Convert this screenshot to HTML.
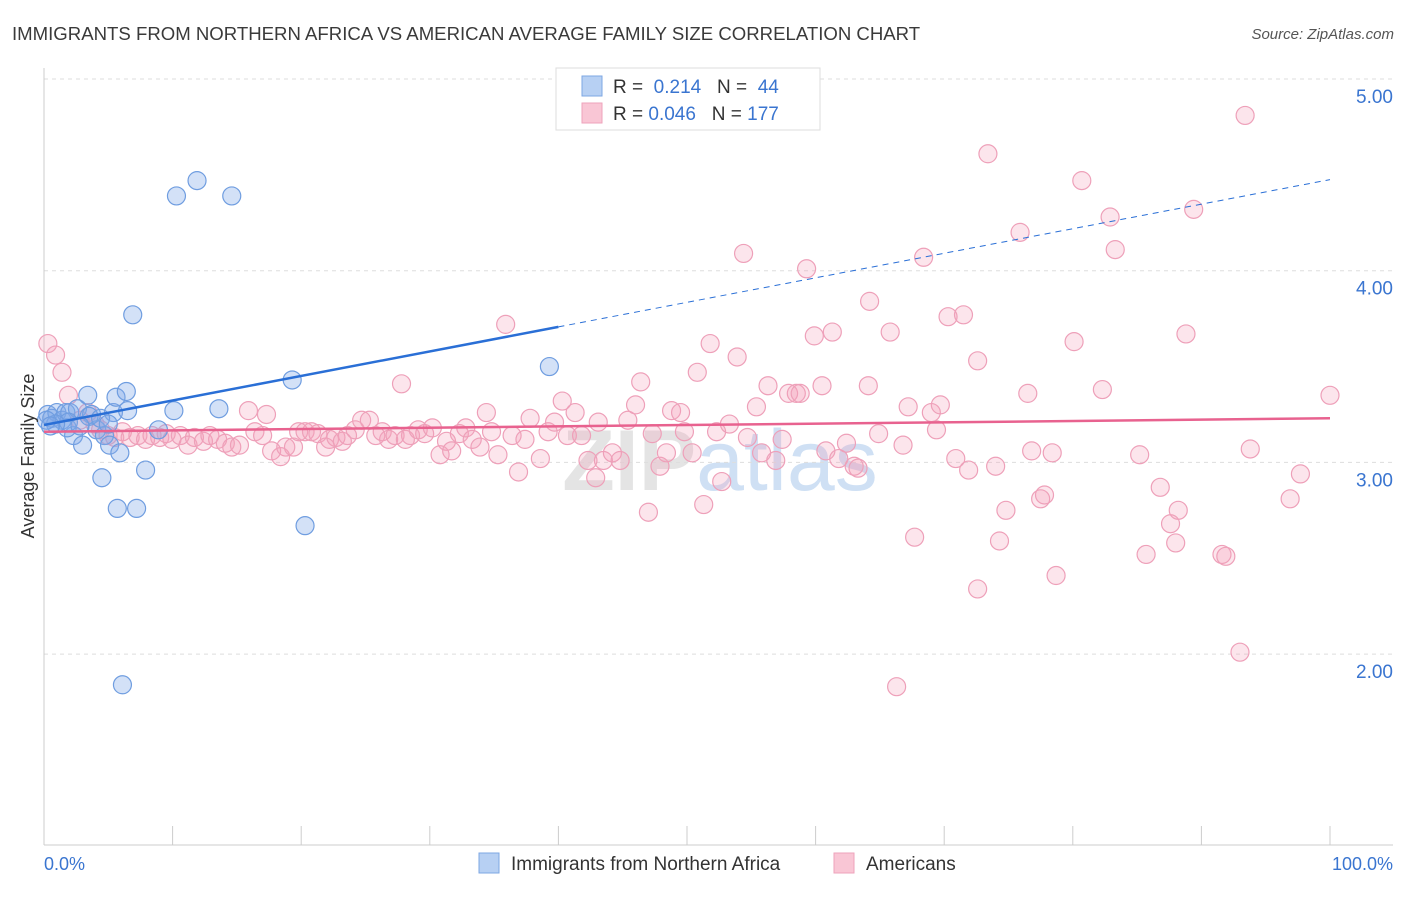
<!DOCTYPE html>
<html><head><meta charset="utf-8"><style>
body{margin:0;background:#fff;font-family:"Liberation Sans",sans-serif;}
svg text{font-family:"Liberation Sans",sans-serif;}
</style></head><body>
<svg id="chart" width="1406" height="892" xmlns="http://www.w3.org/2000/svg">
<text x="12" y="40" font-size="18.6" fill="#3a3a3a">IMMIGRANTS FROM NORTHERN AFRICA VS AMERICAN AVERAGE FAMILY SIZE CORRELATION CHART</text>
<text x="1394" y="39" font-size="15" fill="#555" text-anchor="end" font-style="italic">Source: ZipAtlas.com</text>
<text x="720" y="490" font-size="86" fill="#e4e4e4" text-anchor="middle" font-weight="bold">ZIP<tspan fill="#cfe0f4" font-weight="normal">atlas</tspan></text>
<g id="grid"></g><g id="axes"></g><g id="pts"></g><g id="lines"></g>
<text transform="translate(34,456) rotate(-90)" font-size="18" fill="#333" text-anchor="middle">Average Family Size</text>
<text x="44" y="870" font-size="18" fill="#3a75d0">0.0%</text>
<text x="1393" y="870" font-size="18" fill="#3a75d0" text-anchor="end">100.0%</text>
<g>
<rect x="556" y="68" width="264" height="62" fill="#fff" stroke="#ddd"/>
<rect x="582" y="76" width="20" height="20" fill="#b7d0f3" stroke="#7ea7e3"/>
<rect x="582" y="103" width="20" height="20" fill="#f9c6d5" stroke="#eea3bb"/>
<text x="613" y="93" font-size="19" fill="#333">R = <tspan fill="#3a75d0">&#160;0.214</tspan>&#160;&#160;&#160;N = <tspan fill="#3a75d0">&#160;44</tspan></text>
<text x="613" y="120" font-size="19" fill="#333">R = <tspan fill="#3a75d0">0.046</tspan>&#160;&#160;&#160;N = <tspan fill="#3a75d0">177</tspan></text>
</g>
<g>
<rect x="479" y="853" width="20" height="20" fill="#b7d0f3" stroke="#7ea7e3"/>
<text x="511" y="870" font-size="19" fill="#333">Immigrants from Northern Africa</text>
<rect x="834" y="853" width="20" height="20" fill="#f9c6d5" stroke="#eea3bb"/>
<text x="866" y="870" font-size="19" fill="#333">Americans</text>
</g>
</svg>
<script>
const yTicks=[2,3,4,5];
const yTickLabels=["2.00","3.00","4.00","5.00"];
const blueX=[0.3,0.6,1.0,1.4,1.7,2.0,2.3,2.6,3.0,3.4,3.7,4.1,4.5,4.7,5.1,5.4,5.6,5.7,5.9,6.1,6.4,6.5,7.2,7.9,8.9,10.1,10.3,11.9,13.6,14.6,6.9,19.3,20.3,39.3,1.8,3.5,4.4,1.9,2.8,0.9,5.0,0.2,0.5];
const blueY=[3.25,3.23,3.26,3.22,3.26,3.26,3.14,3.28,3.09,3.35,3.25,3.17,2.92,3.14,3.09,3.26,3.34,2.76,3.05,1.84,3.37,3.27,2.76,2.96,3.17,3.27,4.39,4.47,3.28,4.39,3.77,3.43,2.67,3.50,3.18,3.24,3.23,3.21,3.19,3.20,3.20,3.22,3.19];
const pinkX=[0.3,0.9,1.4,1.9,2.8,3.4,3.97,4.4,4.98,5.5,6.1,6.7,7.3,7.9,8.4,9.0,9.5,9.95,10.6,11.2,11.7,12.4,12.9,13.5,14.1,14.6,15.2,15.9,16.4,17.0,17.3,17.7,18.4,18.8,19.4,19.8,20.3,20.8,21.3,21.9,22.2,22.7,23.2,23.6,24.2,24.7,25.3,25.8,26.3,26.8,27.3,27.8,28.1,28.5,29.1,29.6,30.2,30.8,31.3,31.7,32.3,32.8,33.3,33.9,34.4,34.8,35.3,35.9,36.4,36.9,37.4,37.8,38.6,39.2,39.7,40.3,40.7,41.3,41.8,42.3,42.9,43.1,43.5,44.2,44.8,45.4,46.0,46.4,47.0,47.3,47.9,48.4,48.8,49.5,49.8,50.4,50.8,51.3,51.8,52.3,52.7,53.3,53.9,54.4,54.7,55.4,55.8,56.3,56.9,57.4,57.9,58.5,58.8,59.3,59.9,60.5,60.8,61.3,61.8,62.4,63.0,63.3,64.1,64.2,64.9,65.8,66.3,66.8,67.2,67.7,68.4,69.0,69.4,69.7,70.3,70.9,71.5,71.9,72.6,72.6,73.4,74.0,74.3,74.8,75.9,76.5,76.8,77.5,77.8,78.4,78.7,80.1,80.7,82.3,82.9,83.3,85.2,85.7,86.8,87.6,88.0,88.2,88.8,89.4,91.6,91.9,93.0,93.4,93.8,96.9,97.7,100];
const pinkY=[3.62,3.56,3.47,3.35,3.22,3.26,3.2,3.17,3.14,3.13,3.16,3.13,3.14,3.12,3.14,3.13,3.15,3.12,3.14,3.09,3.13,3.11,3.14,3.12,3.10,3.08,3.09,3.27,3.16,3.14,3.25,3.06,3.03,3.08,3.08,3.16,3.16,3.16,3.15,3.08,3.12,3.13,3.11,3.14,3.17,3.22,3.22,3.14,3.16,3.12,3.14,3.41,3.12,3.14,3.17,3.15,3.18,3.04,3.11,3.06,3.15,3.18,3.12,3.08,3.26,3.16,3.04,3.72,3.14,2.95,3.12,3.23,3.02,3.16,3.21,3.32,3.14,3.26,3.14,3.01,2.92,3.21,3.01,3.05,3.01,3.22,3.30,3.42,2.74,3.15,2.98,3.05,3.27,3.26,3.16,3.05,3.47,2.78,3.62,3.16,2.90,3.20,3.55,4.09,3.13,3.29,3.05,3.40,3.01,3.12,3.36,3.36,3.36,4.01,3.66,3.40,3.06,3.68,3.02,3.10,2.98,2.97,3.40,3.84,3.15,3.68,1.83,3.09,3.29,2.61,4.07,3.26,3.17,3.30,3.76,3.02,3.77,2.96,3.53,2.34,4.61,2.98,2.59,2.75,4.20,3.36,3.06,2.81,2.83,3.05,2.41,3.63,4.47,3.38,4.28,4.11,3.04,2.52,2.87,2.68,2.58,2.75,3.67,4.32,2.52,2.51,2.01,4.81,3.07,2.81,2.94,3.35];
const blueFit=[3.195,4.475];
const pinkFit=[3.16,3.23];
const NS="http://www.w3.org/2000/svg";
const X=v=>44+v*12.86;
const Y=v=>79+(5-v)*191.7;
function mk(tag,attrs,parent){const e=document.createElementNS(NS,tag);for(const k in attrs)e.setAttribute(k,attrs[k]);parent.appendChild(e);return e;}
const grid=document.getElementById('grid'),axes=document.getElementById('axes'),pts=document.getElementById('pts'),lines=document.getElementById('lines');
yTicks.forEach((t,i)=>{
 const l=mk('line',{x1:44,x2:1393,y1:Y(t),y2:Y(t),stroke:'#ddd','stroke-dasharray':'4,4'},grid);
 
 
 const tx=mk('text',{x:1393,y:Y(t)+24,'font-size':19,fill:'#3a75d0','text-anchor':'end'},axes);
 tx.textContent=yTickLabels[i];
 
 
});
const ax=mk('line',{x1:44,x2:44,y1:68,y2:845,stroke:'#ccc'},axes);


const bx=mk('line',{x1:44,x2:1393,y1:845,y2:845,stroke:'#ccc'},axes);


for(let i=1;i<=10;i++){
 const t=mk('line',{x1:X(i*10),x2:X(i*10),y1:826,y2:845,stroke:'#ccc'},axes);
 
 
}
pinkX.forEach((x,i)=>{
 const c=mk('circle',{cx:X(x),cy:Y(pinkY[i]),r:9,fill:'rgba(244,160,188,0.28)',stroke:'#eea0b9','stroke-width':1.2},pts);
 
 
});
blueX.forEach((x,i)=>{
 const c=mk('circle',{cx:X(x),cy:Y(blueY[i]),r:9,fill:'rgba(130,170,232,0.35)',stroke:'#6f9de0','stroke-width':1.2},pts);
 
 
});
const bs=(blueFit[1]-blueFit[0])/100;
const b1=mk('line',{x1:X(0),y1:Y(blueFit[0]),x2:X(40),y2:Y(blueFit[0]+bs*40),stroke:'#2a6fd6','stroke-width':2.5},lines);


const b2=mk('line',{x1:X(40),y1:Y(blueFit[0]+bs*40),x2:X(100),y2:Y(blueFit[1]),stroke:'#2a6fd6','stroke-width':1,'stroke-dasharray':'6,5'},lines);


const p1=mk('line',{x1:X(0),y1:Y(pinkFit[0]),x2:X(100),y2:Y(pinkFit[1]),stroke:'#e8628f','stroke-width':2.5},lines);


</script>
</body></html>
